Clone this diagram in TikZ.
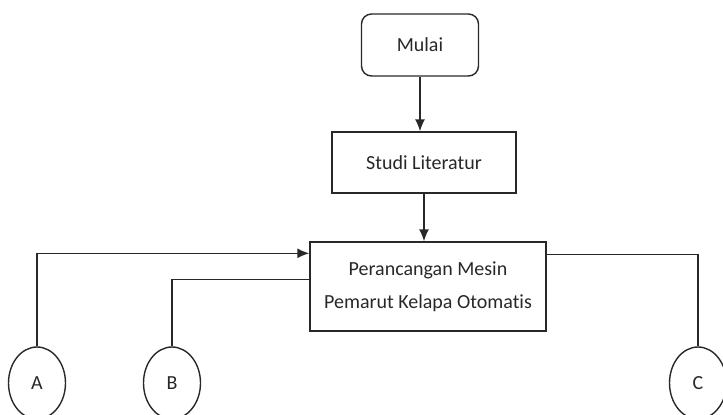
\documentclass[tikz,border=0pt]{standalone}
\usepackage{fontspec}
\setmainfont{Carlito}[Ligatures=NoCommon]
\definecolor{linegray}{RGB}{40, 40, 40}
\usetikzlibrary{arrows.meta,shapes.geometric}

\begin{document}
\begin{tikzpicture}[
    x=0.5pt, y=-0.5pt,
    every node/.style={draw=linegray, line width=0.7pt, text=linegray, font=\fontsize{10}{16.5}\selectfont},
    terminal/.style={rectangle, rounded corners=5pt, minimum width=58.5pt, minimum height=31pt},
    process/.style={rectangle, align=center},
    connector/.style={ellipse, inner sep=0pt, minimum width=28.5pt, minimum height=36pt},
    flow/.style={draw=linegray, line width=0.7pt}
]
\useasboundingbox (0,0) rectangle (723,414);

\node[terminal] (mulai) at (420,45) {Mulai};
\node[process, minimum width=92pt, minimum height=30.5pt] (studi) at (424,162.5) {Studi Literatur};
\node[process, minimum width=118pt, minimum height=44.5pt] (rancang) at (428,286.5) {Perancangan Mesin\\Pemarut Kelapa Otomatis};

\node[connector] (A) at (37,383) {A};
\node[connector] (B) at (172,383) {B};
\node[connector] (C) at (698,383) {C};

\draw[flow, -{Latex[length=6pt, width=5pt]}] (mulai.south) -- (mulai.south |- studi.north);
\draw[flow, -{Latex[length=6pt, width=5pt]}] (studi.south) -- (studi.south |- rancang.north);
\draw[flow, -{Latex[length=6pt, width=5pt]}] (A.north) |- ([yshift=-6pt]rancang.north west);
\draw[flow] (B.north) |- ([yshift=-19pt]rancang.north west);
\draw[flow] (C.north) |- ([yshift=-6.5pt]rancang.north east);
\end{tikzpicture}
\end{document}
